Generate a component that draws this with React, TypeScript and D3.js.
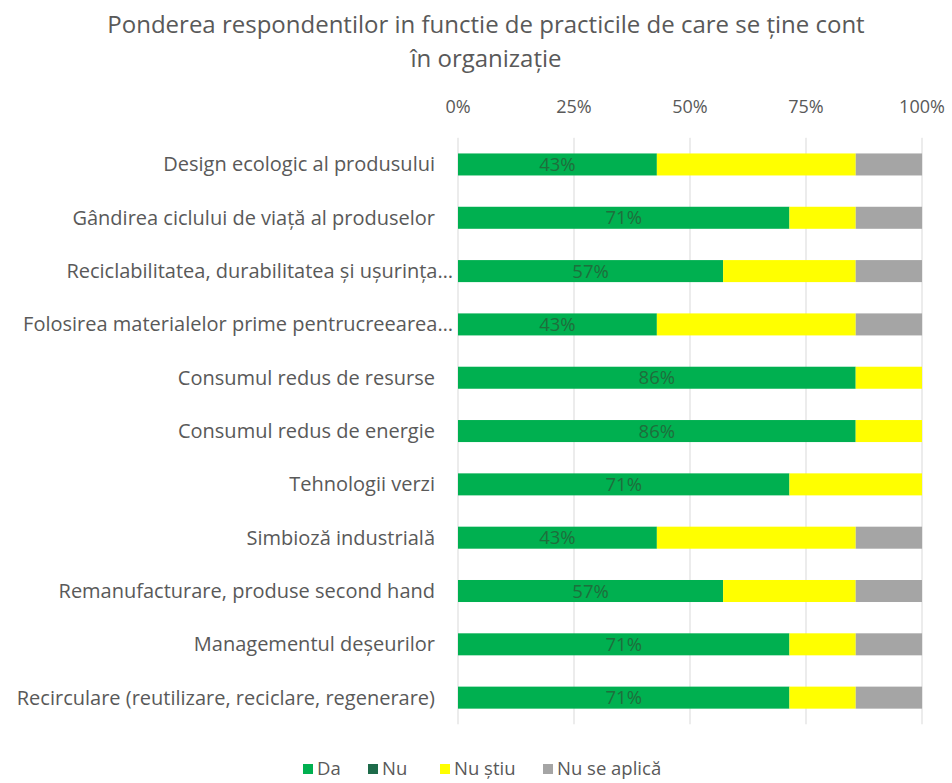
import React from "react";
import * as d3 from "d3";

const categories = [
  "Design ecologic al produsului",
  "Gândirea ciclului de viață al produselor",
  "Reciclabilitatea, durabilitatea și ușurința…",
  "Folosirea materialelor prime pentrucreearea…",
  "Consumul redus de resurse",
  "Consumul redus de energie",
  "Tehnologii verzi",
  "Simbioză industrială",
  "Remanufacturare, produse second hand",
  "Managementul deșeurilor",
  "Recirculare (reutilizare, reciclare, regenerare)",
];
const da = [42.86, 71.43, 57.14, 42.86, 85.71, 85.71, 71.43, 42.86, 57.14, 71.43, 71.43];
const nu = [0, 0, 0, 0, 0, 0, 0, 0, 0, 0, 0];
const nuStiu = [42.86, 14.29, 28.57, 42.86, 14.29, 14.29, 28.57, 42.86, 28.57, 14.29, 14.29];
const nuSeAplica = [14.29, 14.29, 14.29, 14.29, 0, 0, 0, 14.29, 14.29, 14.29, 14.29];
const seriesNames = ["Da", "Nu", "Nu știu", "Nu se aplică"];
const seriesColors = ["#00b050", "#1e6b4a", "#ffff00", "#a5a5a5"];
const ticks = [0, 25, 50, 75, 100];
const titleLines = [
  "Ponderea respondentilor in functie de practicile de care se ține cont",
  "în organizație",
];

export default function App() {
  const W = 952, H = 783;
  const x = d3.scaleLinear().domain([0, 100]).range([458, 922]);
  const y = d3.scaleBand<string>().domain(categories).range([137.8, 724.3]).paddingInner(0.587).paddingOuter(0.2935);
  const seriesData = [da, nu, nuStiu, nuSeAplica];
  const rows = categories.map((c, i) => {
    const o: any = { cat: c };
    seriesNames.forEach((s, k) => (o[s] = seriesData[k][i]));
    return o;
  });
  const stacked = d3.stack<any>().keys(seriesNames)(rows);
  const font = "Open Sans, sans-serif";
  const txt = "#595959";
  const legendX = [303, 368, 440, 543];
  return (
    <svg width={W} height={H} style={{ position: "absolute", left: 0, top: 0 }} fontFamily={font}>
      <rect width={W} height={H} fill="#fff" />
      {titleLines.map((t, i) => (
        <text key={i} x={486} y={33 + i * 34} textAnchor="middle" fontSize={24} fill={txt}>{t}</text>
      ))}
      {ticks.map((t) => (
        <g key={t}>
          <line x1={x(t)} x2={x(t)} y1={137.8} y2={724.3} stroke="#d9d9d9" strokeWidth={1} />
          <text x={x(t)} y={113} textAnchor="middle" fontSize={18} fill={txt}>{t}%</text>
        </g>
      ))}
      {stacked.map((s, k) => (
        <g key={k} fill={seriesColors[k]}>
          {s.map((d, i) => d[1] - d[0] > 0 ? (
            <rect key={i} x={x(d[0])} width={x(d[1]) - x(d[0])} y={y(categories[i])!} height={y.bandwidth()} />
          ) : null)}
        </g>
      ))}
      {categories.map((c, i) => (
        <text key={c} x={x(da[i] / 2)} y={y(c)! + y.bandwidth() / 2 + 6.5} textAnchor="middle" fontSize={18.5} fill="#1f6e3c">
          {Math.round(da[i])}%
        </text>
      ))}
      {categories.map((c) => (
        <text key={c} x={c.endsWith("…") ? 453 : 435} y={y(c)! + y.bandwidth() / 2 + 7} textAnchor="end" fontSize={20} fill={txt}>
          {c}
        </text>
      ))}
      {seriesNames.map((s, k) => (
        <g key={s}>
          <rect x={legendX[k]} y={764} width={10} height={10} fill={seriesColors[k]} />
          <text x={legendX[k] + 14} y={775} fontSize={18.5} fill={txt}>{s}</text>
        </g>
      ))}
    </svg>
  );
}
